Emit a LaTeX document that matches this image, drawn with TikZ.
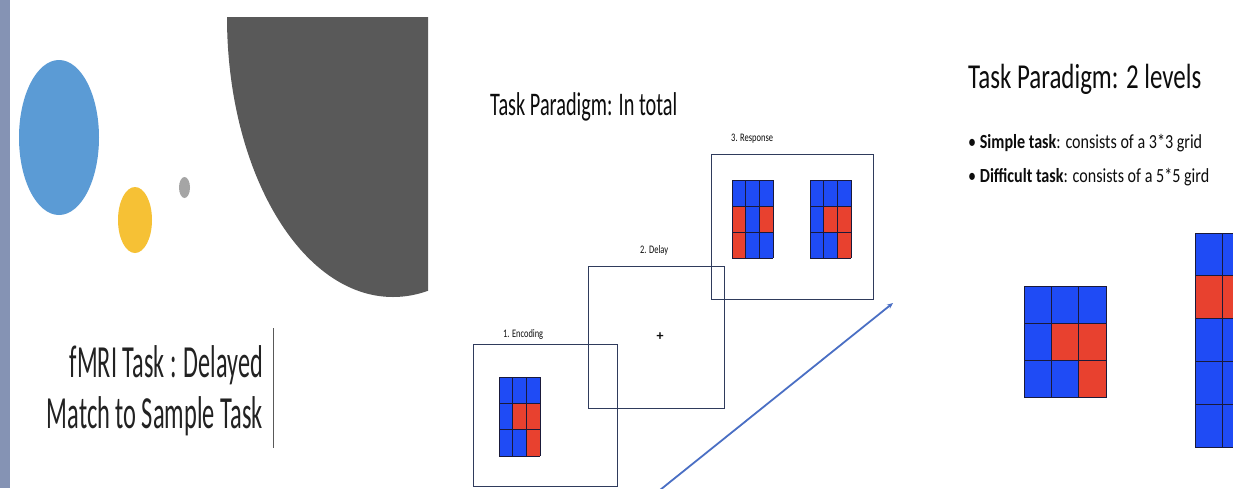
\documentclass[tikz,border=0pt]{standalone}
\usepackage{fontspec}
\setmainfont{Carlito}
\usetikzlibrary{arrows.meta}

\definecolor{stripc}{HTML}{8593B4}
\definecolor{dotblue}{HTML}{5B9BD5}
\definecolor{dotyellow}{HTML}{F6C135}
\definecolor{dotgray}{HTML}{A5A5A5}
\definecolor{darkfill}{HTML}{595959}
\definecolor{titletext}{HTML}{222222}
\definecolor{slidetext}{HTML}{0D0D0D}
\definecolor{framec}{HTML}{2F3B5C}
\definecolor{cellB}{HTML}{1F4BF5}
\definecolor{cellR}{HTML}{E8412F}
\definecolor{gridc}{HTML}{1A1A3A}
\definecolor{arrowc}{HTML}{4A6FC4}

% text squeezed to a given width at a given size
\newcommand\sqz[3]{\resizebox{#1pt}{\height}{\fontsize{#2}{#2}\selectfont #3}}

% 3x3 colour grid: x0, y0, cell width, cell height, nine colours row by row
\newcommand\colorgrid[5]{%
  \foreach \c [count=\i from 0] in {#5} {
    \pgfmathtruncatemacro\gcol{mod(\i,3)}
    \pgfmathtruncatemacro\grow{div(\i,3)}
    \fill[\c] ({#1+\gcol*#3},{#2+\grow*#4}) rectangle ++(#3,#4);
  }
  \foreach \k in {0,...,3} {
    \draw[gridline] ({#1+\k*#3},#2) -- ++(0,{3*#4});
    \draw[gridline] (#1,{#2+\k*#4}) -- ++({3*#3},0);
  }%
}

\begin{document}
\begin{tikzpicture}[x=1pt,y=-1pt,
  txt/.style={inner sep=0pt, text=titletext},
  stxt/.style={inner sep=0pt, text=slidetext},
  stim/.style={draw=framec, line width=0.9pt, inner sep=0pt},
  gridline/.style={draw=gridc, line width=1pt},
  timearrow/.style={draw=arrowc, line width=1.8pt, -{Stealth[length=6pt,width=5pt]}}]
\useasboundingbox (0,0) rectangle (1233,488);
\fill[white] (0,0) rectangle (1233,488);

% ---- title slide ----
\fill[stripc] (0,0) rectangle (10,488);
\fill[dotblue] (59,137.5) ellipse [x radius=40, y radius=77.5];
\fill[dotyellow] (135,220) ellipse [x radius=17, y radius=33];
\fill[dotgray] (184.5,187.5) ellipse [x radius=5.5, y radius=10.5];
\begin{scope}
  \clip (227,17) rectangle (428,488);
  \fill[darkfill] (393,17) ellipse [x radius=166, y radius=280];
\end{scope}
\node[txt, anchor=base east] (tl1) at (263,377) {\sqz{193}{46}{fMRI Task : Delayed}};
\node[txt, anchor=base east] (tl2) at (263,428) {\sqz{216}{46}{Match to Sample Task}};
\coordinate (bar0) at (273,328);
\coordinate (bar1) at (273,448);
\draw[darkfill, line width=1pt] (bar0) -- (bar1);

% ---- paradigm overview ----
\node[stxt, anchor=base west] (mt) at (490,115) {\sqz{187}{33}{Task Paradigm: In total}};

\node[stim, minimum width=144pt, minimum height=142pt] (enc) at (545,415) {};
\node[stim, minimum width=136pt, minimum height=142pt] (del) at (656,337) {};
\node[stim, minimum width=162pt, minimum height=145pt] (resp) at (792,226.5) {};

\node[stxt, anchor=base west] (encl) at (503,337) {\sqz{40}{11.5}{1. Encoding}};
\node[stxt, anchor=base west] (dell) at (640,253) {\sqz{28}{11.5}{2. Delay}};
\node[stxt, anchor=base west] (respl) at (731,141) {\sqz{42}{11.5}{3. Response}};
\node[stxt] (fix) at (660,337) {\fontsize{14}{14}\selectfont\bfseries +};

\colorgrid{499}{377}{13.67}{26.33}{cellB,cellB,cellB,cellB,cellR,cellR,cellB,cellB,cellR}
\colorgrid{732}{180}{13.67}{26}{cellB,cellB,cellB,cellR,cellB,cellR,cellR,cellB,cellB}
\colorgrid{810}{180}{13.67}{26}{cellB,cellB,cellB,cellB,cellR,cellR,cellB,cellB,cellR}

\coordinate (t0) at (660,490);
\coordinate (t1) at (893,303);
\draw[timearrow] (t0) -- (t1);

% ---- two levels ----
\node[stxt, anchor=base west] (rt) at (968,88) {\sqz{233}{35}{Task Paradigm: 2 levels}};
\node[stxt, anchor=base west] (b1) at (968,148.3) {\sqz{234}{20}{• \textbf{Simple task}: consists of a 3*3 grid}};
\node[stxt, anchor=base west] (b2) at (968,182.7) {\sqz{241}{20}{• \textbf{Difficult task}: consists of a 5*5 gird}};

\colorgrid{1024}{286}{27.33}{37.33}{cellB,cellB,cellB,cellB,cellR,cellR,cellB,cellB,cellR}

\begin{scope}
  \clip (0,0) rectangle (1233,488);
  \foreach \r in {0,...,4} {
    \foreach \q in {0,1} {
      \ifnum\r=1
        \fill[cellR] ({1195+\q*27.7},{233+\r*42.8}) rectangle ++(27.7,42.8);
      \else
        \fill[cellB] ({1195+\q*27.7},{233+\r*42.8}) rectangle ++(27.7,42.8);
      \fi
    }
  }
  \foreach \k in {0,...,5} {
    \draw[gridline] (1195,{233+\k*42.8}) -- ++(60,0);
  }
  \foreach \k in {0,1,2} {
    \draw[gridline] ({1195+\k*27.7},233) -- ++(0,214);
  }
\end{scope}
\end{tikzpicture}
\end{document}
